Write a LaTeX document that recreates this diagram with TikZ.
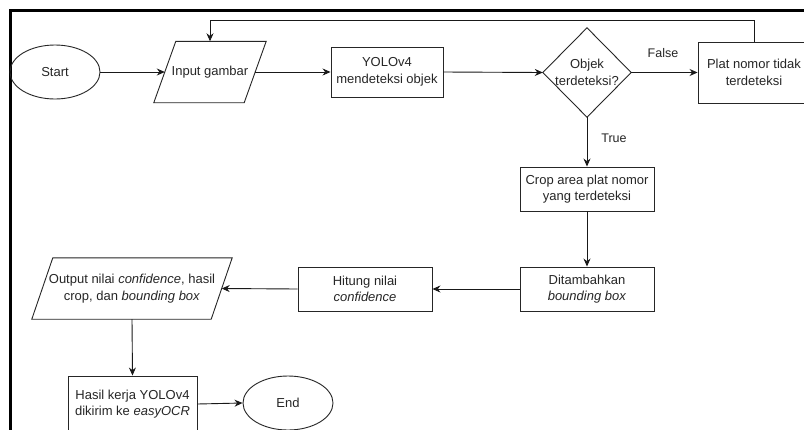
\documentclass[tikz,border=0pt]{standalone}
\usepackage{fontspec}
\setmainfont{Liberation Sans}
\usetikzlibrary{arrows.meta,shapes.geometric,calc}
\begin{document}
\begin{tikzpicture}[x=1pt,y=-1pt,
  every node/.style={font=\fontsize{13}{16.5}\selectfont, text=black!85, align=center, inner sep=0pt},
  outl/.style={draw=black!85, line width=0.9pt},
  box/.style={outl, rectangle, minimum width=134pt, minimum height=44pt},
  ghost/.style={rectangle, draw=none},
  term/.style={outl, ellipse, minimum width=90pt, minimum height=54pt},
  arr/.style={draw=black!90, line width=0.9pt, -{Stealth[length=8pt,width=7pt]}},
  lbl/.style={font=\fontsize{12.5}{15}\selectfont}]
\useasboundingbox (0,0) rectangle (804,429);
\clip (0,0) rectangle (804,429);
\fill[white] (0,0) rectangle (804,429);
% frame
\draw[line width=3pt, black] (10,440) -- (10,10.5) -- (810,10.5);

% nodes
\node[term] (start) at (55,72) {Start};
\node[ghost, minimum width=90pt, minimum height=61pt] (input) at (210,72) {Input gambar};
\node[box, minimum width=112pt, minimum height=50pt] (yolo) at (387,72) {YOLOv4\\mendeteksi objek};
\node[ghost, minimum width=88pt, minimum height=89pt] (dec) at (587,72.5) {Objek\\terdeteksi?};
\node[box, minimum width=112pt, minimum height=61pt] (plat) at (754,72.5) {Plat nomor tidak\\terdeteksi};
\node[box] (crop) at (587,189) {Crop area plat nomor\\yang terdeteksi};
\node[box] (tambah) at (587,289) {Ditambahkan\\\textit{bounding box}};
\node[box] (hitung) at (365,289) {Hitung nilai\\\textit{confidence}};
\node[ghost, minimum width=179pt, minimum height=61pt] (output) at (132,288.5) {Output nilai \textit{confidence}, hasil\\crop, dan \textit{bounding box}};
\node[box, minimum width=129pt, minimum height=56pt] (hasil) at (132.5,404) {Hasil kerja YOLOv4\\dikirim ke \textit{easyOCR}};
\node[term] (end) at (288,403) {End};

% custom outlines
\draw[outl] ($(input.south west)+(-11,0)$) -- ($(input.north west)+(11,0)$) -- ($(input.north east)+(11,0)$) -- ($(input.south east)+(-11,0)$) -- cycle;
\draw[outl] ($(output.south west)+(-10.5,0)$) -- ($(output.north west)+(10.5,0)$) -- ($(output.north east)+(10.5,0)$) -- ($(output.south east)+(-10.5,0)$) -- cycle;
\draw[outl] (dec.north) -- (dec.east) -- (dec.south) -- (dec.west) -- cycle;

% labels
\node[lbl] (lfalse) at (663,53) {False};
\node[lbl] (ltrue) at (614,138) {True};

% connectors
\draw[arr] (start.east) -- (input.west);
\draw[arr] (input.east) -- (yolo.west);
\draw[arr] (yolo.east) -- (dec.west);
\draw[arr] (dec.east) -- (plat.west);
\draw[arr] (dec.south) -- (crop.north);
\draw[arr] (crop.south) -- (tambah.north);
\draw[arr] (tambah.west) -- (hitung.east);
\draw[arr] (hitung.west) -- (output.east);
\draw[arr] (output.south) -- (hasil.north);
\draw[arr] (hasil.east) -- (end.west);
\draw[arr] (plat.north) -- ++(0,-21.5) -| (input.north);
\end{tikzpicture}
\end{document}
